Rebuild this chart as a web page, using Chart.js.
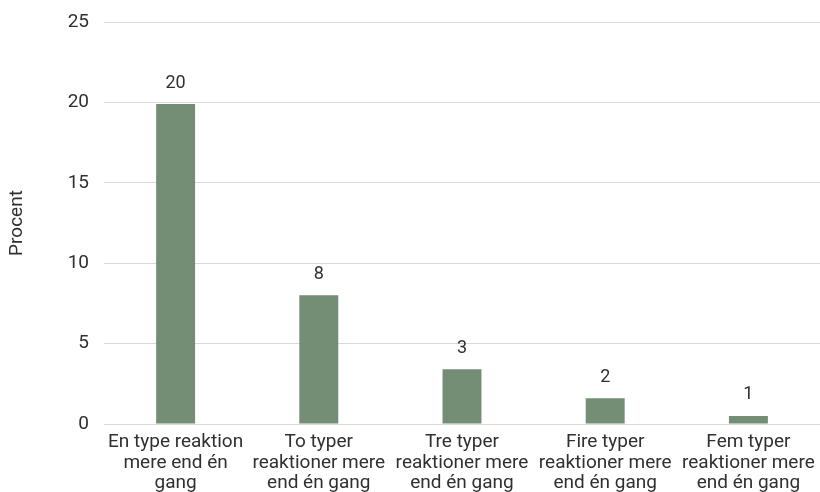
<!DOCTYPE html>
<html>
<head>
<meta charset="utf-8">
<script src="https://cdn.jsdelivr.net/npm/chart.js@4/dist/chart.umd.min.js"></script>
<style>
  html, body { margin: 0; padding: 0; background: #fff; overflow: hidden; }
  #wrap { width: 820px; height: 492px; position: relative; }
</style>
</head>
<body>
<div id="wrap"><canvas id="c" width="820" height="492"></canvas></div>
<script>
const categories = [
  ["En type reaktion", "mere end én", "gang"],
  ["To typer", "reaktioner mere", "end én gang"],
  ["Tre typer", "reaktioner mere", "end én gang"],
  ["Fire typer", "reaktioner mere", "end én gang"],
  ["Fem typer", "reaktioner mere", "end én gang"]
];
const values = [19.9, 8.0, 3.4, 1.6, 0.5];
const yTicks = [0, 5, 10, 15, 20, 25];
const axisTitle = "Procent";

const FONT = "Roboto, Lato, sans-serif";
const TEXT = "#303030";

const valueLabels = {
  id: 'valueLabels',
  afterDatasetsDraw(chart) {
    const ctx = chart.ctx;
    const meta = chart.getDatasetMeta(0);
    ctx.save();
    ctx.font = "18px " + FONT;
    ctx.fillStyle = TEXT;
    ctx.textAlign = 'center';
    ctx.textBaseline = 'middle';
    meta.data.forEach((bar, i) => {
      ctx.fillText(String(Math.round(values[i])), bar.x, bar.y - 21);
    });
    ctx.restore();
  }
};

new Chart(document.getElementById('c'), {
  type: 'bar',
  data: {
    labels: categories,
    datasets: [{
      data: values,
      backgroundColor: '#738e74',
      borderWidth: 0,
      barPercentage: 0.272,
      categoryPercentage: 1.0
    }]
  },
  options: {
    responsive: false,
    animation: false,
    devicePixelRatio: 1,
    layout: { padding: { top: 22, left: 0, right: 0, bottom: 0 } },
    plugins: { legend: { display: false }, tooltip: { enabled: false } },
    scales: {
      x: {
        grid: { display: false, drawTicks: false },
        border: { display: false },
        ticks: {
          color: TEXT,
          font: { family: FONT, size: 19, lineHeight: 1.08 },
          padding: 8,
          maxRotation: 0,
          autoSkip: false
        },
        afterFit(scale) { scale.height = 68; scale.paddingLeft = 0; scale.paddingRight = 0; }
      },
      y: {
        min: 0,
        max: 25,
        afterBuildTicks(scale) { scale.ticks = yTicks.map(v => ({ value: v })); },
        grid: { color: '#d9d9d9', lineWidth: 1, drawTicks: false },
        border: { display: false },
        ticks: {
          color: TEXT,
          font: { family: FONT, size: 19 },
          padding: 15
        },
        title: {
          display: true,
          text: axisTitle,
          color: TEXT,
          font: { family: FONT, size: 19 },
          padding: { top: 6, bottom: 0 }
        },
        afterFit(scale) { scale.width = 104; scale.paddingTop = 0; scale.paddingBottom = 0; }
      }
    }
  },
  plugins: [valueLabels]
});
</script>
</body>
</html>
